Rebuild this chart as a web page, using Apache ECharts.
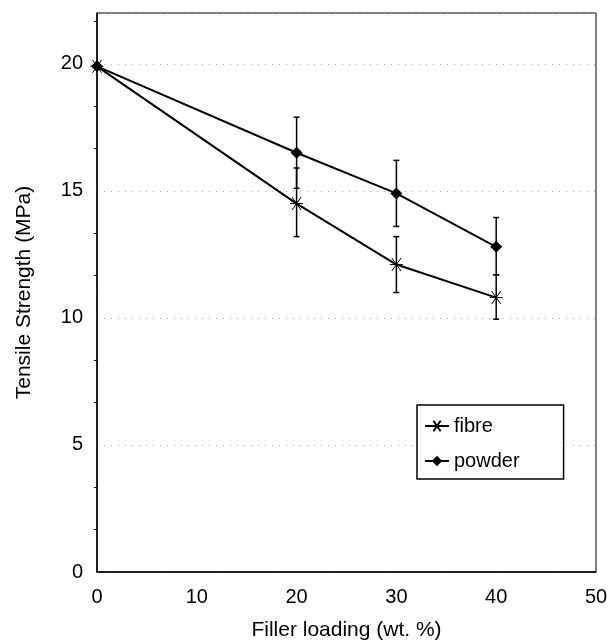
<!DOCTYPE html>
<html>
<head>
<meta charset="utf-8">
<script src="https://cdn.jsdelivr.net/npm/echarts@6/dist/echarts.min.js"></script>
<style>
html,body{margin:0;padding:0;background:#fff;}
#c{width:608px;height:643px;}
</style>
</head>
<body>
<div id="c"></div>
<script>
const loading = [0, 20, 30, 40];
const fibre = [19.9, 14.5, 12.1, 10.8];
const fibreLow = [null, 13.2, 11.0, 9.95];
const fibreHigh = [null, 15.9, 13.2, 11.7];
const powder = [19.9, 16.5, 14.9, 12.8];
const powderLow = [null, 15.1, 13.6, 11.7];
const powderHigh = [null, 17.9, 16.2, 13.95];
const xTicks = [0, 10, 20, 30, 40, 50];
const yTicks = [0, 5, 10, 15, 20];

const font = 'Liberation Sans, Arial, sans-serif';
const asterisk = 'path://M-1,0L1,0M-0.7,-0.7L0.7,0.7M-0.7,0.7L0.7,-0.7';

function pairs(xs, ys) { return xs.map((x, i) => [x, ys[i]]); }
function errData(xs, lo, hi) {
  const out = [];
  xs.forEach((x, i) => { if (lo[i] != null) out.push([x, lo[i], hi[i]]); });
  return out;
}
function errRender(params, api) {
  const x = api.value(0);
  const lo = api.coord([x, api.value(1)]);
  const hi = api.coord([x, api.value(2)]);
  const w = 3;
  const st = { stroke: '#000', lineWidth: 1.5 };
  return {
    type: 'group',
    children: [
      { type: 'line', shape: { x1: lo[0], y1: lo[1], x2: hi[0], y2: hi[1] }, style: st },
      { type: 'line', shape: { x1: lo[0] - w, y1: lo[1], x2: lo[0] + w, y2: lo[1] }, style: st },
      { type: 'line', shape: { x1: hi[0] - w, y1: hi[1], x2: hi[0] + w, y2: hi[1] }, style: st }
    ]
  };
}

const chart = echarts.init(document.getElementById('c'));
chart.setOption({
  animation: false,
  backgroundColor: '#fff',
  textStyle: { fontFamily: font },
  grid: { left: 97, right: 12, top: 13, bottom: 71, show: true, borderColor: '#000', borderWidth: 1,
    outerBoundsMode: 'none', containLabel: false },
  xAxis: {
    type: 'value', min: 0, max: 50, interval: 10,
    name: 'Filler loading (wt. %)', nameLocation: 'middle', nameGap: 48,
    nameTextStyle: { fontSize: 21, color: '#000', fontFamily: font },
    axisLine: { lineStyle: { color: '#000', width: 1.5 } },
    axisTick: { show: false },
    axisLabel: { fontSize: 20, color: '#000', margin: 15, fontFamily: font,
      formatter: v => xTicks.includes(v) ? String(v) : '' },
    splitLine: { show: false }
  },
  yAxis: {
    type: 'value', min: 0, max: 22, interval: 5,
    name: 'Tensile Strength (MPa)', nameLocation: 'middle', nameGap: 62,
    nameTextStyle: { fontSize: 21, color: '#000', fontFamily: font },
    axisLine: { show: true, lineStyle: { color: '#000', width: 1.5 } },
    axisTick: { show: false },
    minorTick: { show: true, splitNumber: 3, length: 3, lineStyle: { color: '#000' } },
    axisLabel: { fontSize: 20, color: '#000', margin: 14, fontFamily: font,
      formatter: v => yTicks.includes(v) ? String(v) : '' },
    splitLine: { show: true, lineStyle: { color: '#aaa', type: [1, 6], width: 1 } }
  },
  legend: {
    left: 417, top: 405, orient: 'vertical',
    backgroundColor: '#fff', borderColor: '#000', borderWidth: 1.5,
    padding: [11, 44, 8, 7], itemGap: 15, itemWidth: 24, itemHeight: 13,
    textStyle: { fontSize: 20, color: '#000', fontFamily: font },
    data: ['fibre', 'powder']
  },
  series: [
    {
      name: 'fibre', type: 'line', data: pairs(loading, fibre),
      symbol: asterisk, symbolSize: 13,
      itemStyle: { color: '#000', borderColor: '#000', borderWidth: 1 },
      lineStyle: { color: '#000', width: 2 }, z: 3
    },
    {
      name: 'powder', type: 'line', data: pairs(loading, powder),
      symbol: 'diamond', symbolSize: 12,
      itemStyle: { color: '#000' },
      lineStyle: { color: '#000', width: 2 }, z: 3
    },
    { type: 'custom', renderItem: errRender, data: errData(loading, fibreLow, fibreHigh), z: 2, silent: true },
    { type: 'custom', renderItem: errRender, data: errData(loading, powderLow, powderHigh), z: 2, silent: true }
  ]
});
</script>
</body>
</html>
